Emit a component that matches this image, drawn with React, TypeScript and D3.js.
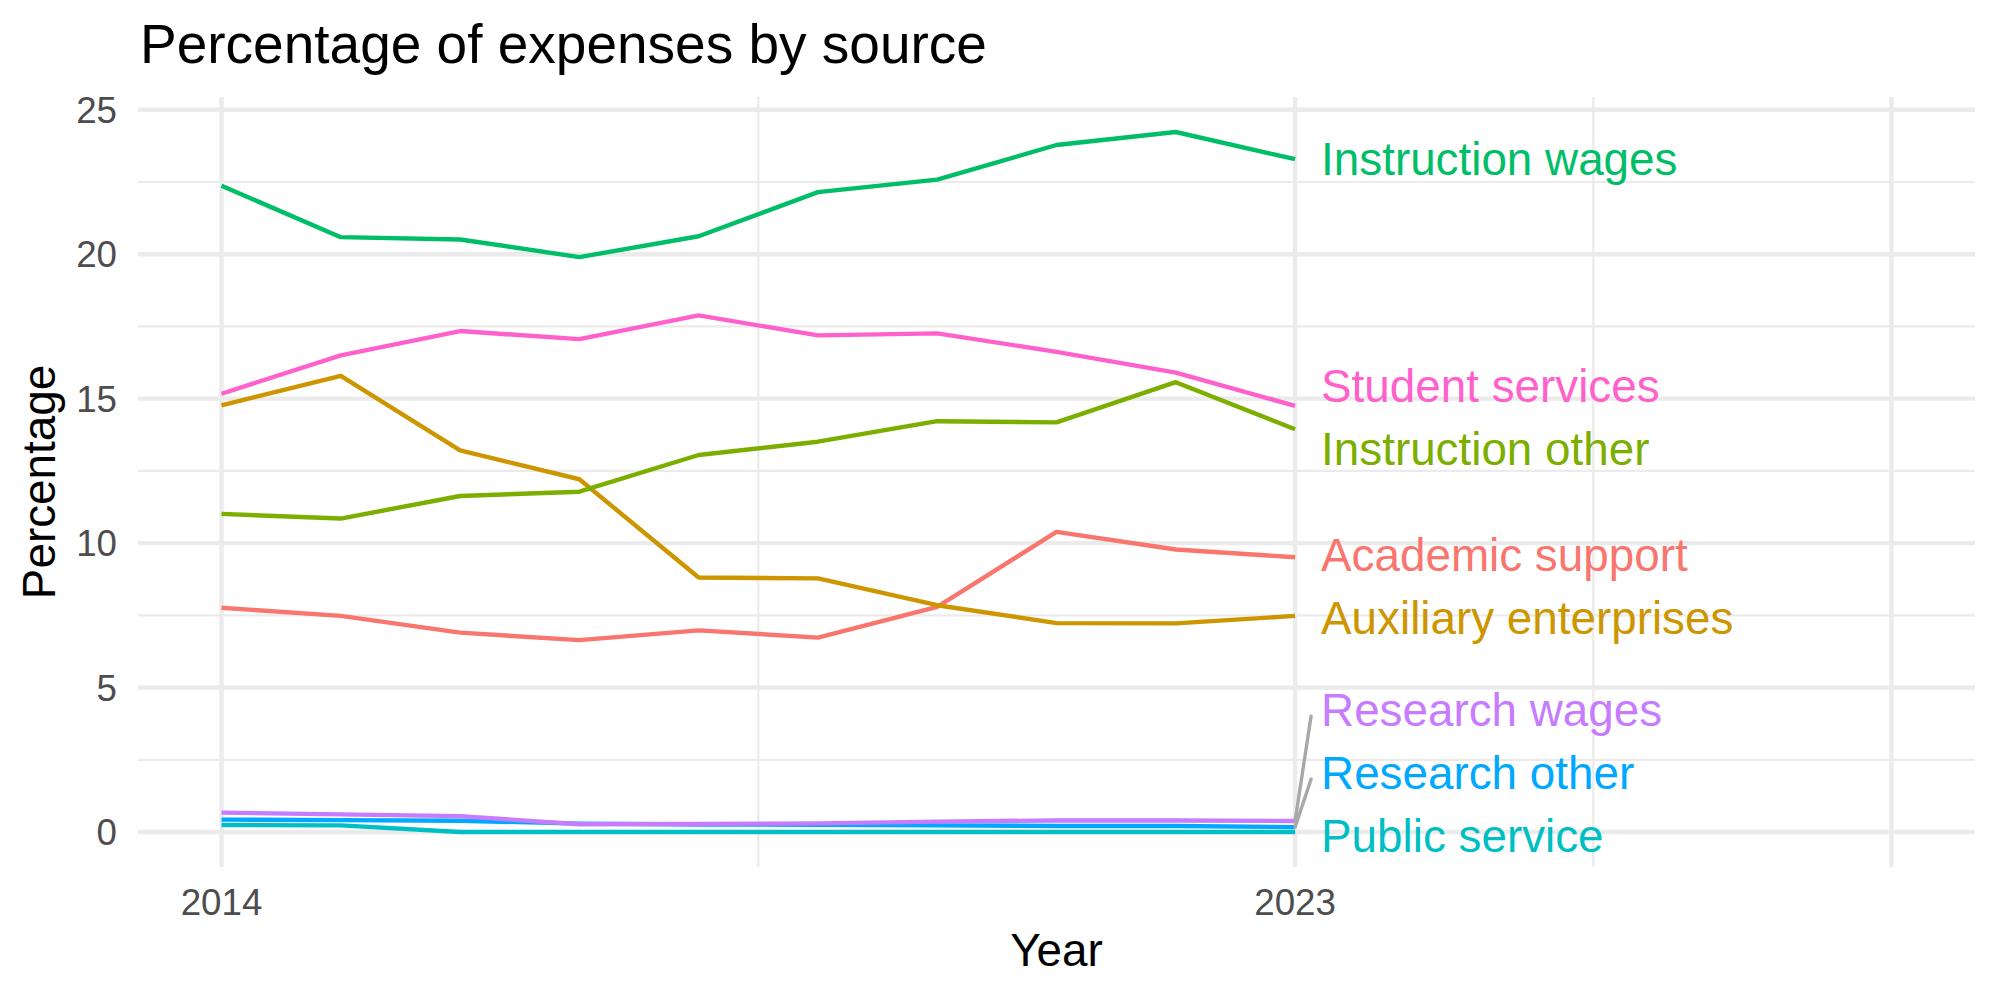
import React from "react";
import * as d3 from "d3";

// Share of total expenses (%) by source, fiscal years 2014–2023
const years = [2014, 2015, 2016, 2017, 2018, 2019, 2020, 2021, 2022, 2023];

const academicSupport = [7.76, 7.48, 6.9, 6.64, 6.98, 6.73, 7.79, 10.39, 9.78, 9.51];
const auxiliaryEnterprises = [14.77, 15.79, 13.21, 12.21, 8.81, 8.78, 7.85, 7.23, 7.22, 7.48];
const instructionOther = [11.01, 10.85, 11.63, 11.78, 13.05, 13.51, 14.22, 14.18, 15.57, 13.94];
const instructionWages = [22.37, 20.59, 20.51, 19.9, 20.62, 22.15, 22.58, 23.78, 24.23, 23.29];
const publicService = [0.24, 0.23, 0.0, 0.0, 0.0, 0.0, 0.0, 0.0, 0.0, 0.0];
const researchOther = [0.43, 0.41, 0.39, 0.29, 0.26, 0.25, 0.23, 0.21, 0.21, 0.17];
const researchWages = [0.67, 0.61, 0.55, 0.27, 0.28, 0.3, 0.36, 0.4, 0.4, 0.38];
const studentServices = [15.17, 16.5, 17.34, 17.06, 17.88, 17.19, 17.26, 16.62, 15.9, 14.75];

const sourceNames = [
  "Academic support",
  "Auxiliary enterprises",
  "Instruction other",
  "Instruction wages",
  "Public service",
  "Research other",
  "Research wages",
  "Student services",
];
const sourceValues = [
  academicSupport,
  auxiliaryEnterprises,
  instructionOther,
  instructionWages,
  publicService,
  researchOther,
  researchWages,
  studentServices,
];
const palette = ["#F8766D", "#CD9600", "#7CAE00", "#00BE67", "#00BFC4", "#00A9FF", "#C77CFF", "#FF61CC"];

const xLimits = [2014, 2028];
const xMajorBreaks = [2014, 2023, 2028];
const xTickLabels = ["2014", "2023", ""];
const yMajorBreaks = [0, 5, 10, 15, 20, 25];

const W = 2000;
const H = 1000;
const panel = { left: 138, right: 1975, top: 97, bottom: 867 };
const FONT = "'Liberation Sans', Arial, Helvetica, sans-serif";

// Stack label centres so they never overlap, keeping them inside [lo, hi]
function spreadLabels(targets: number[], gap: number, lo: number, hi: number): number[] {
  const order = targets.map((_, i) => i).sort((a, b) => targets[a] - targets[b]);
  type Cluster = { idx: number[]; start: number };
  const place = (idx: number[]) => {
    const mean = d3.mean(idx.map((i, k) => targets[i] - k * gap)) as number;
    return Math.max(lo, Math.min(hi - (idx.length - 1) * gap, mean));
  };
  const clusters: Cluster[] = [];
  for (const i of order) {
    clusters.push({ idx: [i], start: place([i]) });
    while (clusters.length > 1) {
      const cur = clusters[clusters.length - 1];
      const prev = clusters[clusters.length - 2];
      if (prev.start + prev.idx.length * gap > cur.start) {
        const idx = prev.idx.concat(cur.idx);
        clusters.splice(clusters.length - 2, 2, { idx, start: place(idx) });
      } else break;
    }
  }
  const out = new Array(targets.length).fill(0);
  for (const c of clusters) c.idx.forEach((i, k) => (out[i] = c.start + k * gap));
  return out;
}

export default function App() {
  const xPad = (xLimits[1] - xLimits[0]) * 0.05;
  const x = d3.scaleLinear().domain([xLimits[0] - xPad, xLimits[1] + xPad]).range([panel.left, panel.right]);

  const allVals = sourceValues.flat();
  const yMin = d3.min(allVals) as number;
  const yMax = d3.max(allVals) as number;
  const yPad = (yMax - yMin) * 0.05;
  const y = d3.scaleLinear().domain([yMin - yPad, yMax + yPad]).range([panel.bottom, panel.top]);

  const yMinor = yMajorBreaks.slice(0, -1).map((v, i) => (v + yMajorBreaks[i + 1]) / 2);
  const xMinor = xMajorBreaks.slice(0, -1).map((v, i) => (v + xMajorBreaks[i + 1]) / 2);

  const line = d3
    .line<number>()
    .x((_, i) => x(years[i]))
    .y((v) => y(v));

  const labelFont = 45.8;
  const halfBox = 31;
  const lastYear = years[years.length - 1];
  const endY = sourceValues.map((vals) => y(vals[vals.length - 1]));
  const labelY = spreadLabels(endY, 2 * halfBox + 1, panel.top + halfBox, panel.bottom - halfBox);
  const labelX = x(lastYear) + 26;

  return (
    <svg
      width={W}
      height={H}
      viewBox={`0 0 ${W} ${H}`}
      style={{ position: "absolute", left: 0, top: 0, background: "#FFFFFF" }}
      fontFamily={FONT}
    >
      {/* grid */}
      <g>
        {yMinor.map((v) => (
          <line key={`ym${v}`} x1={panel.left} x2={panel.right} y1={y(v)} y2={y(v)} stroke="#EBEBEB" strokeWidth={2.2} />
        ))}
        {xMinor.map((v) => (
          <line key={`xm${v}`} x1={x(v)} x2={x(v)} y1={panel.top} y2={panel.bottom} stroke="#EBEBEB" strokeWidth={2.2} />
        ))}
        {yMajorBreaks.map((v) => (
          <line key={`yM${v}`} x1={panel.left} x2={panel.right} y1={y(v)} y2={y(v)} stroke="#EBEBEB" strokeWidth={4.4} />
        ))}
        {xMajorBreaks.map((v) => (
          <line key={`xM${v}`} x1={x(v)} x2={x(v)} y1={panel.top} y2={panel.bottom} stroke="#EBEBEB" strokeWidth={4.4} />
        ))}
      </g>

      {/* series */}
      <g fill="none" strokeWidth={4.4} strokeLinejoin="round" strokeLinecap="butt">
        {sourceValues.map((vals, i) => (
          <path key={sourceNames[i]} d={line(vals) as string} stroke={palette[i]} />
        ))}
      </g>

      {/* connector segments for labels pushed away from their line end */}
      <g stroke="#A8A8A8" strokeWidth={3.4} strokeLinecap="round">
        {sourceValues.map((vals, i) => {
          const dy = labelY[i] - endY[i];
          if (Math.abs(dy) < 40) return null;
          const off = Math.max(-halfBox, Math.min(halfBox, endY[i] - labelY[i])) * 0.2;
          return (
            <line
              key={`seg${i}`}
              x1={x(lastYear)}
              y1={endY[i]}
              x2={labelX - 10}
              y2={labelY[i] + off}
            />
          );
        })}
      </g>

      {/* end labels */}
      <g fontSize={labelFont}>
        {sourceNames.map((name, i) => (
          <text key={`lab${i}`} x={labelX} y={labelY[i] + labelFont * 0.352} fill={palette[i]}>
            {name}
          </text>
        ))}
      </g>

      {/* axes text */}
      <g fontSize={36.7} fill="#4D4D4D">
        {yMajorBreaks.map((v) => (
          <text key={`yt${v}`} x={117} y={y(v) + 13.1} textAnchor="end">
            {v}
          </text>
        ))}
        {xMajorBreaks.map((v, i) => (
          <text key={`xt${v}`} x={x(v)} y={915} textAnchor="middle">
            {xTickLabels[i]}
          </text>
        ))}
      </g>

      <text x={(panel.left + panel.right) / 2} y={966} textAnchor="middle" fontSize={45.8} fill="#000000">
        Year
      </text>
      <text
        transform={`translate(55, ${(panel.top + panel.bottom) / 2}) rotate(-90)`}
        textAnchor="middle"
        fontSize={45.8}
        fill="#000000"
      >
        Percentage
      </text>
      <text x={140} y={63} fontSize={55} fill="#000000">
        Percentage of expenses by source
      </text>
    </svg>
  );
}
